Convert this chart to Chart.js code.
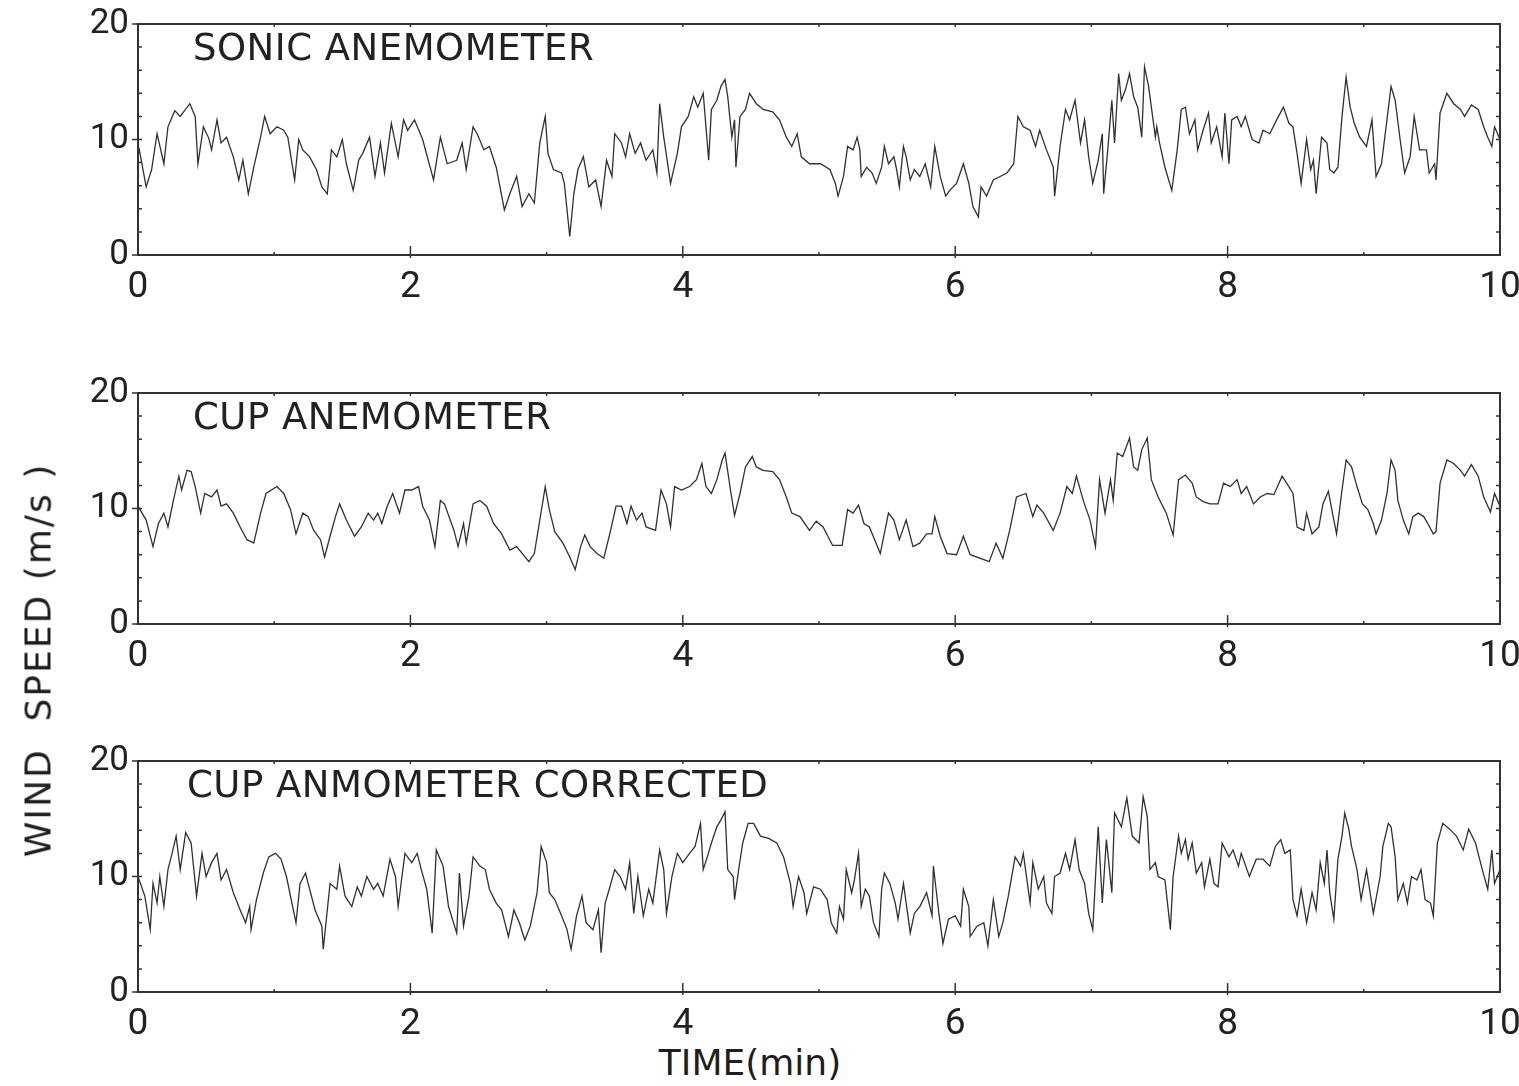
<!DOCTYPE html>
<html>
<head>
<meta charset="utf-8">
<script src="https://cdn.jsdelivr.net/npm/chart.js@4.4.1/dist/chart.umd.min.js"></script>
<style>
  html, body { margin: 0; padding: 0; background: #fff; width: 1519px; height: 1086px; overflow: hidden; }
  canvas { position: absolute; left: 0; }
  .axis-title { position: absolute; font-family: "DejaVu Sans", sans-serif; color: #1e1e1e; white-space: pre; }
  #xTitle { left: 122px; width: 1256px; top: 1042px; font-size: 36px; text-align: center; }
  #yTitle { left: 38px; top: 660px; font-size: 36px; letter-spacing: 2px; transform: translate(-50%, -50%) rotate(-90deg); }
</style>
</head>
<body>
<canvas id="sonicChart" width="1519" height="300" style="top:4px"></canvas>
<canvas id="cupChart" width="1519" height="300" style="top:373px"></canvas>
<canvas id="correctedChart" width="1519" height="300" style="top:741px"></canvas>
<div id="xTitle" class="axis-title">TIME(min)</div>
<div id="yTitle" class="axis-title">WIND  SPEED (m/s )</div>
<script>
// axis ticks
const xTicks = [0, 2, 4, 6, 8, 10];
const yTicks = [0, 10, 20];
const panelTitles = ["SONIC ANEMOMETER", "CUP ANEMOMETER", "CUP ANMOMETER CORRECTED"];

// sonic anemometer trace (time in min, speed in m/s)
const sonicTime = [0, 0.01, 0.06, 0.10, 0.14, 0.19, 0.22, 0.27, 0.31, 0.38, 0.42, 0.44, 0.48, 0.52, 0.54, 0.58, 0.61, 0.65, 0.70, 0.74,
  0.77, 0.81, 0.85, 0.90, 0.93, 0.97, 1.02, 1.07, 1.10, 1.15, 1.18, 1.21, 1.26, 1.31, 1.35, 1.39, 1.42, 1.46, 1.50, 1.53,
  1.58, 1.62, 1.65, 1.70, 1.74, 1.78, 1.81, 1.86, 1.91, 1.95, 1.98, 2.03, 2.09, 2.17, 2.22, 2.27, 2.34, 2.38, 2.41, 2.46,
  2.49, 2.54, 2.58, 2.63, 2.69, 2.73, 2.78, 2.82, 2.87, 2.91, 2.95, 2.99, 3.01, 3.05, 3.11, 3.13, 3.17, 3.20, 3.23, 3.27,
  3.31, 3.36, 3.40, 3.44, 3.48, 3.50, 3.55, 3.58, 3.61, 3.65, 3.69, 3.73, 3.78, 3.81, 3.83, 3.86, 3.91, 3.96, 3.99, 4.04,
  4.08, 4.11, 4.15, 4.19, 4.21, 4.25, 4.28, 4.31, 4.33, 4.36, 4.38, 4.39, 4.42, 4.46, 4.49, 4.54, 4.59, 4.66, 4.71, 4.76,
  4.80, 4.84, 4.87, 4.93, 5.01, 5.08, 5.12, 5.14, 5.18, 5.21, 5.25, 5.28, 5.30, 5.31, 5.35, 5.39, 5.42, 5.46, 5.48, 5.51,
  5.55, 5.57, 5.59, 5.62, 5.64, 5.67, 5.70, 5.74, 5.78, 5.82, 5.85, 5.89, 5.93, 5.96, 6.01, 6.06, 6.10, 6.13, 6.17, 6.19,
  6.23, 6.28, 6.33, 6.38, 6.43, 6.46, 6.50, 6.55, 6.59, 6.62, 6.67, 6.72, 6.73, 6.77, 6.81, 6.84, 6.88, 6.92, 6.95, 6.98,
  7.01, 7.05, 7.08, 7.09, 7.12, 7.15, 7.17, 7.20, 7.22, 7.25, 7.28, 7.31, 7.34, 7.37, 7.39, 7.42, 7.44, 7.47, 7.48, 7.50,
  7.54, 7.59, 7.63, 7.66, 7.69, 7.72, 7.76, 7.78, 7.82, 7.86, 7.88, 7.92, 7.96, 7.98, 8.01, 8.03, 8.07, 8.10, 8.13, 8.18,
  8.23, 8.26, 8.31, 8.36, 8.41, 8.45, 8.48, 8.51, 8.54, 8.58, 8.61, 8.63, 8.65, 8.69, 8.73, 8.75, 8.78, 8.81, 8.84, 8.87,
  8.90, 8.93, 8.97, 9.02, 9.06, 9.09, 9.13, 9.17, 9.20, 9.23, 9.27, 9.30, 9.34, 9.37, 9.41, 9.46, 9.48, 9.52, 9.53, 9.56,
  9.61, 9.66, 9.71, 9.74, 9.79, 9.84, 9.88, 9.91, 9.94, 9.96, 10.00];
const sonicSpeed = [8.6, 9.1, 5.9, 7.4, 10.5, 7.9, 11.1, 12.5, 12.0, 13.1, 12.0, 7.9, 11.1, 10.1, 9.1, 11.7, 9.7, 10.2, 8.5, 6.5,
  8.2, 5.3, 7.6, 10.2, 12.0, 10.5, 11.1, 10.8, 10.2, 6.5, 10.0, 9.1, 8.5, 7.4, 5.9, 5.3, 9.1, 8.5, 10.0, 7.9,
  5.6, 8.2, 8.8, 10.2, 6.8, 9.7, 7.1, 11.4, 8.5, 11.7, 10.8, 11.7, 10.0, 6.5, 10.2, 7.9, 8.2, 9.7, 7.4, 11.1,
  10.5, 9.1, 9.4, 7.6, 3.9, 5.3, 6.8, 4.2, 5.3, 4.5, 9.7, 12.0, 8.8, 7.4, 7.1, 6.2, 1.6, 5.3, 7.4, 8.5,
  5.9, 6.5, 4.2, 8.2, 6.8, 10.5, 9.7, 8.5, 10.5, 8.8, 9.7, 8.2, 9.1, 7.1, 13.1, 10.2, 6.2, 8.8, 11.1, 12.0,
  13.7, 12.8, 14.0, 8.2, 12.6, 13.4, 14.6, 15.2, 13.7, 10.2, 11.7, 7.6, 12.0, 12.6, 14.0, 13.1, 12.6, 12.4, 11.7, 10.2,
  9.4, 10.5, 8.5, 7.9, 7.9, 7.4, 6.2, 5.1, 6.8, 9.4, 9.1, 10.2, 9.1, 6.8, 7.6, 7.1, 6.2, 7.6, 9.4, 7.9,
  8.5, 7.4, 5.9, 9.4, 8.5, 6.5, 7.4, 6.8, 7.9, 5.9, 9.4, 6.8, 5.1, 5.6, 6.2, 7.9, 6.2, 4.2, 3.3, 5.9,
  5.1, 6.5, 6.8, 7.1, 7.9, 12.0, 11.1, 10.8, 9.4, 10.8, 9.1, 7.6, 5.1, 9.4, 12.6, 11.7, 13.4, 9.7, 11.7, 8.5,
  6.2, 8.2, 10.5, 5.3, 9.1, 13.4, 9.7, 15.7, 13.4, 14.3, 15.7, 13.7, 12.8, 10.2, 16.3, 14.6, 12.8, 10.2, 11.1, 9.7,
  7.6, 5.6, 9.1, 12.6, 12.8, 10.5, 11.7, 9.1, 10.8, 12.3, 9.7, 11.1, 8.5, 12.3, 7.9, 11.7, 12.0, 11.1, 12.0, 10.0,
  9.7, 10.8, 10.5, 11.7, 12.8, 11.4, 11.1, 8.8, 6.2, 10.0, 7.4, 8.2, 5.3, 10.2, 9.7, 7.4, 7.1, 7.6, 12.0, 15.4,
  12.8, 11.4, 10.2, 9.4, 11.7, 6.8, 7.9, 11.7, 14.6, 13.4, 9.7, 7.1, 8.5, 12.0, 9.1, 9.1, 7.1, 7.9, 6.5, 12.3,
  14.0, 13.1, 12.6, 12.0, 13.0, 12.6, 11.1, 10.2, 9.4, 11.1, 10.0];

// cup anemometer trace
const cupTime = [0, 0.06, 0.11, 0.15, 0.19, 0.22, 0.26, 0.30, 0.32, 0.36, 0.39, 0.42, 0.46, 0.49, 0.54, 0.58, 0.61, 0.65, 0.70, 0.75,
  0.80, 0.85, 0.90, 0.94, 1.02, 1.07, 1.12, 1.16, 1.21, 1.25, 1.29, 1.34, 1.37, 1.41, 1.45, 1.48, 1.53, 1.59, 1.64, 1.69,
  1.73, 1.76, 1.79, 1.83, 1.87, 1.92, 1.96, 2.01, 2.06, 2.09, 2.14, 2.18, 2.22, 2.25, 2.32, 2.35, 2.39, 2.41, 2.46, 2.51,
  2.56, 2.61, 2.67, 2.73, 2.78, 2.87, 2.91, 2.95, 2.99, 3.02, 3.06, 3.12, 3.17, 3.21, 3.25, 3.28, 3.32, 3.37, 3.42, 3.47,
  3.51, 3.55, 3.59, 3.62, 3.66, 3.70, 3.73, 3.80, 3.84, 3.88, 3.91, 3.94, 3.99, 4.05, 4.10, 4.14, 4.17, 4.21, 4.25, 4.29,
  4.31, 4.35, 4.38, 4.42, 4.46, 4.51, 4.54, 4.59, 4.66, 4.71, 4.76, 4.80, 4.86, 4.93, 4.98, 5.03, 5.10, 5.17, 5.21, 5.25,
  5.29, 5.33, 5.37, 5.45, 5.51, 5.55, 5.59, 5.64, 5.69, 5.74, 5.79, 5.83, 5.85, 5.89, 5.94, 6.01, 6.06, 6.11, 6.18, 6.25,
  6.30, 6.35, 6.40, 6.45, 6.52, 6.57, 6.60, 6.65, 6.72, 6.77, 6.82, 6.86, 6.89, 6.94, 6.99, 7.03, 7.06, 7.10, 7.14, 7.16,
  7.19, 7.23, 7.28, 7.31, 7.34, 7.37, 7.41, 7.44, 7.49, 7.55, 7.60, 7.64, 7.69, 7.74, 7.77, 7.82, 7.87, 7.93, 7.97, 8.02,
  8.07, 8.10, 8.14, 8.19, 8.24, 8.29, 8.34, 8.40, 8.45, 8.48, 8.51, 8.56, 8.58, 8.62, 8.67, 8.70, 8.74, 8.77, 8.80, 8.84,
  8.87, 8.91, 8.95, 8.99, 9.03, 9.07, 9.09, 9.13, 9.17, 9.20, 9.23, 9.25, 9.29, 9.33, 9.36, 9.40, 9.44, 9.47, 9.51, 9.53,
  9.56, 9.61, 9.66, 9.71, 9.74, 9.79, 9.84, 9.88, 9.93, 9.96, 10.00];
const cupSpeed = [10.2, 9.0, 6.7, 8.7, 9.6, 8.4, 10.7, 12.8, 11.6, 13.3, 13.2, 11.9, 9.6, 11.3, 11.0, 11.6, 10.2, 10.4, 9.6, 8.4,
  7.3, 7.0, 9.6, 11.3, 11.9, 11.3, 9.9, 7.8, 9.6, 9.3, 8.1, 7.3, 5.8, 7.6, 9.3, 10.4, 9.0, 7.6, 8.4, 9.6,
  9.0, 9.6, 8.7, 10.2, 11.3, 9.6, 11.6, 11.6, 11.9, 10.2, 9.0, 6.7, 10.7, 10.4, 8.1, 6.7, 8.7, 7.0, 10.4, 10.7,
  10.2, 8.7, 7.8, 6.4, 6.7, 5.4, 6.1, 9.0, 11.9, 9.9, 8.0, 7.0, 5.8, 4.7, 6.7, 7.7, 6.7, 6.1, 5.7, 8.1,
  10.2, 10.2, 8.7, 10.2, 9.0, 9.6, 8.4, 8.1, 11.6, 10.4, 8.4, 11.9, 11.6, 11.9, 12.5, 13.9, 11.9, 11.3, 12.5, 14.2,
  14.8, 11.6, 9.4, 11.3, 13.6, 14.5, 13.6, 13.3, 13.2, 12.5, 11.0, 9.6, 9.3, 8.1, 8.9, 8.4, 6.8, 6.8, 9.9, 9.6,
  10.3, 8.7, 8.4, 6.1, 9.6, 9.0, 7.3, 9.0, 6.7, 7.0, 7.8, 7.8, 9.3, 7.6, 6.1, 6.0, 7.6, 6.0, 5.7, 5.4,
  7.0, 5.7, 8.1, 11.0, 11.3, 9.3, 10.3, 9.6, 8.1, 9.6, 11.9, 11.3, 12.8, 10.7, 9.0, 6.7, 12.5, 9.6, 12.5, 10.7,
  14.8, 14.5, 16.1, 13.6, 13.3, 15.1, 16.1, 12.5, 11.0, 9.6, 7.7, 12.5, 12.9, 12.2, 11.0, 10.6, 10.4, 10.4, 12.2, 11.9,
  12.5, 11.3, 11.9, 10.4, 11.0, 11.3, 11.2, 12.8, 11.9, 11.3, 8.4, 8.1, 9.6, 7.8, 8.4, 10.4, 11.5, 9.6, 7.8, 11.6,
  14.2, 13.6, 11.9, 10.4, 9.9, 8.7, 7.8, 9.0, 11.3, 14.2, 13.3, 10.7, 9.0, 7.8, 9.3, 9.6, 9.3, 8.7, 7.8, 8.0,
  12.2, 14.2, 13.9, 13.3, 12.8, 13.8, 12.8, 11.0, 9.7, 11.3, 10.2];

// corrected cup anemometer trace
const corrTime = [0, 0.05, 0.09, 0.11, 0.14, 0.16, 0.19, 0.22, 0.25, 0.28, 0.31, 0.35, 0.39, 0.43, 0.47, 0.50, 0.54, 0.58, 0.61, 0.65,
  0.70, 0.75, 0.79, 0.82, 0.83, 0.87, 0.92, 0.96, 1.01, 1.05, 1.09, 1.13, 1.16, 1.19, 1.23, 1.26, 1.30, 1.35, 1.36, 1.39,
  1.41, 1.46, 1.48, 1.52, 1.57, 1.61, 1.64, 1.68, 1.73, 1.76, 1.80, 1.85, 1.89, 1.91, 1.96, 2.01, 2.05, 2.08, 2.12, 2.16,
  2.19, 2.24, 2.28, 2.34, 2.36, 2.39, 2.43, 2.46, 2.51, 2.55, 2.58, 2.63, 2.67, 2.72, 2.76, 2.80, 2.84, 2.88, 2.93, 2.96,
  3.00, 3.02, 3.06, 3.11, 3.15, 3.18, 3.22, 3.26, 3.29, 3.34, 3.38, 3.40, 3.43, 3.46, 3.50, 3.54, 3.58, 3.61, 3.64, 3.67,
  3.71, 3.75, 3.78, 3.83, 3.86, 3.88, 3.92, 3.96, 4.00, 4.05, 4.09, 4.13, 4.15, 4.18, 4.21, 4.25, 4.28, 4.31, 4.33, 4.37,
  4.38, 4.41, 4.44, 4.48, 4.52, 4.57, 4.63, 4.69, 4.74, 4.79, 4.81, 4.85, 4.89, 4.91, 4.96, 5.01, 5.06, 5.09, 5.13, 5.15,
  5.18, 5.20, 5.24, 5.26, 5.29, 5.31, 5.34, 5.37, 5.40, 5.44, 5.46, 5.48, 5.52, 5.56, 5.58, 5.62, 5.66, 5.67, 5.70, 5.74,
  5.79, 5.83, 5.84, 5.88, 5.91, 5.95, 6.00, 6.04, 6.06, 6.10, 6.11, 6.16, 6.21, 6.24, 6.28, 6.32, 6.35, 6.39, 6.44, 6.48,
  6.50, 6.55, 6.57, 6.61, 6.65, 6.67, 6.71, 6.73, 6.77, 6.81, 6.84, 6.88, 6.91, 6.95, 6.98, 7.01, 7.05, 7.08, 7.11, 7.15,
  7.17, 7.22, 7.26, 7.30, 7.35, 7.38, 7.41, 7.43, 7.47, 7.49, 7.54, 7.58, 7.60, 7.64, 7.66, 7.69, 7.71, 7.74, 7.77, 7.81,
  7.83, 7.87, 7.90, 7.93, 7.96, 8.01, 8.04, 8.08, 8.10, 8.16, 8.21, 8.26, 8.31, 8.35, 8.39, 8.42, 8.46, 8.48, 8.51, 8.54,
  8.58, 8.62, 8.65, 8.68, 8.71, 8.73, 8.75, 8.78, 8.81, 8.84, 8.86, 8.89, 8.91, 8.95, 8.98, 9.02, 9.07, 9.12, 9.14, 9.18,
  9.20, 9.23, 9.25, 9.29, 9.32, 9.35, 9.39, 9.42, 9.45, 9.49, 9.51, 9.54, 9.58, 9.63, 9.68, 9.73, 9.77, 9.82, 9.87, 9.91,
  9.94, 9.96, 10.00];
const corrSpeed = [10.0, 8.3, 5.4, 9.4, 7.7, 10.0, 7.4, 10.6, 12.0, 13.5, 10.6, 13.8, 12.9, 8.3, 12.0, 10.0, 11.2, 12.0, 9.7, 10.6,
  8.6, 7.1, 6.0, 7.4, 5.4, 8.0, 10.3, 11.7, 12.0, 11.5, 10.0, 7.7, 6.0, 9.4, 10.3, 8.9, 7.1, 5.7, 3.7, 7.1,
  9.4, 8.9, 10.9, 8.3, 7.4, 9.1, 8.3, 10.0, 8.9, 9.4, 8.3, 11.5, 10.0, 7.4, 12.0, 11.2, 12.0, 10.6, 8.9, 5.1,
  12.3, 10.9, 7.4, 5.1, 10.3, 5.7, 8.3, 11.7, 10.9, 10.6, 8.9, 7.7, 7.1, 4.8, 7.1, 6.0, 4.5, 5.7, 8.6, 12.6,
  11.2, 8.6, 8.0, 6.6, 5.4, 3.7, 6.6, 8.3, 6.0, 5.4, 7.1, 3.4, 7.7, 8.9, 10.6, 10.0, 8.9, 11.2, 6.8, 10.0,
  6.6, 8.9, 7.7, 12.3, 10.6, 6.8, 10.0, 12.0, 11.2, 12.0, 12.6, 14.6, 10.6, 11.7, 12.9, 14.3, 14.9, 15.6, 10.6, 10.0,
  8.0, 10.6, 12.9, 14.6, 14.6, 13.5, 13.3, 12.9, 11.7, 9.4, 7.4, 10.0, 8.6, 6.8, 9.1, 8.9, 8.0, 6.0, 5.1, 7.4,
  6.3, 10.6, 8.6, 9.7, 12.0, 7.4, 8.9, 8.3, 6.0, 4.8, 8.9, 10.3, 9.4, 7.7, 6.3, 9.4, 6.0, 5.1, 6.8, 7.4,
  8.6, 6.6, 10.9, 6.8, 4.2, 6.3, 6.6, 5.7, 8.9, 7.4, 4.8, 5.7, 6.0, 4.0, 8.0, 4.8, 6.0, 8.3, 11.7, 10.9,
  12.0, 7.7, 11.2, 8.9, 10.0, 7.7, 6.8, 10.0, 10.3, 12.0, 10.6, 13.2, 10.6, 9.4, 6.8, 5.4, 14.3, 7.7, 13.2, 8.6,
  15.5, 14.3, 16.8, 13.5, 12.9, 16.9, 15.2, 10.6, 11.2, 10.0, 9.7, 5.4, 10.0, 13.5, 12.0, 13.2, 11.5, 12.9, 10.3, 11.2,
  9.1, 11.5, 9.4, 9.1, 12.9, 11.7, 12.3, 10.9, 12.0, 10.0, 11.5, 11.5, 10.9, 12.6, 13.2, 12.0, 12.3, 8.0, 6.6, 8.9,
  6.0, 8.6, 7.1, 11.2, 9.4, 12.3, 8.6, 6.3, 11.5, 13.5, 15.5, 14.1, 12.6, 10.6, 8.0, 10.6, 6.8, 10.0, 12.6, 14.6,
  14.3, 11.7, 8.0, 9.4, 7.7, 10.0, 9.7, 10.6, 8.0, 7.7, 6.6, 12.9, 14.6, 14.1, 13.5, 12.3, 14.1, 12.9, 10.6, 8.9,
  12.3, 9.4, 10.6];

const inkColor = "#222";
const traceColor = "rgba(25, 25, 25, 0.9)";
const tickFont = "Roboto";

// ✅ frame, inward ticks and panel caption, drawn from the chart's own scales
const framePlugin = {
    id: "frame",
    afterDraw(chart) {
        const ctx = chart.ctx;
        const area = chart.chartArea;
        const xs = chart.scales.x;
        const ys = chart.scales.y;
        ctx.save();
        ctx.strokeStyle = "#333";
        ctx.lineWidth = 2;
        ctx.strokeRect(area.left, area.top, area.right - area.left, area.bottom - area.top);

        ctx.lineWidth = 1.5;
        ctx.beginPath();
        // y ticks every 2 m/s on both sides
        for (let v = 2; v < 20; v += 2) {
            const py = ys.getPixelForValue(v);
            ctx.moveTo(area.left, py); ctx.lineTo(area.left + 4, py);
            ctx.moveTo(area.right, py); ctx.lineTo(area.right - 4, py);
        }
        // labelled y ticks point outward
        yTicks.forEach(v => {
            const py = ys.getPixelForValue(v);
            ctx.moveTo(area.left - 6, py); ctx.lineTo(area.left, py);
        });
        // x ticks: every minute small, every 2 minutes crossing
        for (let t = 1; t < 10; t++) {
            const px = xs.getPixelForValue(t);
            const big = t % 2 === 0;
            ctx.moveTo(px, area.bottom + (big ? 3 : 0)); ctx.lineTo(px, area.bottom - (big ? 9 : 3));
            ctx.moveTo(px, area.top); ctx.lineTo(px, area.top + 3);
        }
        ctx.stroke();

        // panel caption
        const opts = chart.options.plugins.frame;
        ctx.fillStyle = inkColor;
        ctx.font = "37px 'DejaVu Sans', sans-serif";
        ctx.letterSpacing = "0.5px";
        ctx.textBaseline = "alphabetic";
        ctx.textAlign = "left";
        ctx.fillText(opts.title, area.left + opts.dx, area.top + 36);
        ctx.restore();
    }
};

// ✅ Function to build one panel
function renderPanel(canvasId, times, speeds, title, dx) {
    const ctx = document.getElementById(canvasId).getContext("2d");
    return new Chart(ctx, {
        type: "line",
        data: {
            datasets: [{
                data: times.map((t, i) => ({ x: t, y: speeds[i] })),
                borderColor: traceColor,
                borderWidth: 1.3,
                pointRadius: 0,
                tension: 0,
                fill: false
            }]
        },
        options: {
            responsive: false,
            animation: false,
            devicePixelRatio: 1,
            layout: { padding: { top: 20, right: 19, left: 0, bottom: 0 } },
            plugins: {
                legend: { display: false },
                tooltip: { enabled: false },
                frame: { title: title, dx: dx }
            },
            scales: {
                x: {
                    type: "linear",
                    min: 0,
                    max: 10,
                    afterBuildTicks: s => { s.ticks = xTicks.map(v => ({ value: v })); },
                    afterFit: s => { s.height = 49; s.paddingLeft = 0; s.paddingRight = 0; },
                    grid: { display: false, drawTicks: false },
                    border: { display: false },
                    ticks: {
                        padding: 11,
                        maxRotation: 0,
                        autoSkip: false,
                        color: inkColor,
                        font: { family: tickFont, size: 37 }
                    }
                },
                y: {
                    type: "linear",
                    min: 0,
                    max: 20,
                    afterBuildTicks: s => { s.ticks = yTicks.map(v => ({ value: v })); },
                    afterFit: s => { s.width = 138; s.paddingTop = 0; s.paddingBottom = 0; },
                    grid: { display: false, drawTicks: false },
                    border: { display: false },
                    ticks: {
                        padding: 9,
                        color: inkColor,
                        font: { family: tickFont, size: 35 }
                    }
                }
            }
        },
        plugins: [framePlugin]
    });
}

renderPanel("sonicChart", sonicTime, sonicSpeed, panelTitles[0], 55);
renderPanel("cupChart", cupTime, cupSpeed, panelTitles[1], 55);
renderPanel("correctedChart", corrTime, corrSpeed, panelTitles[2], 49);
</script>
</body>
</html>
